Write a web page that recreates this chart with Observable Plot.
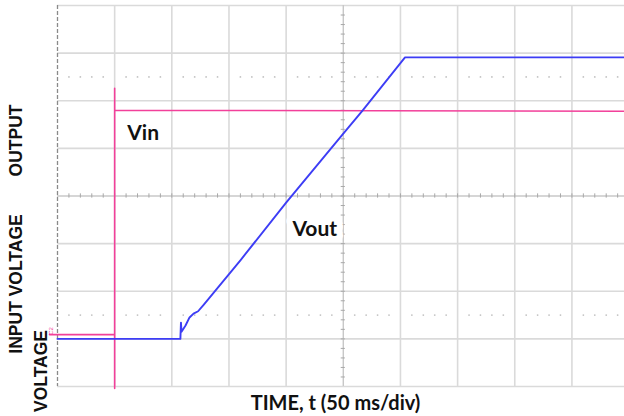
<!DOCTYPE html>
<html><head><meta charset="utf-8">
<script src="https://cdn.jsdelivr.net/npm/d3@7"></script>
<script src="https://cdn.jsdelivr.net/npm/@observablehq/plot@0.6"></script>
<style>html,body{margin:0;padding:0;background:#fff;}</style>
</head><body><div id="chart"></div>
<script>
// time in ms (50 ms/div), voltage in screen divisions (0..8)
const tVin  = [-7, 50, 50, 50, 50, 496];
const vVin  = [1.09, 1.09, -0.04, 6.26, 5.80, 5.78];
const tVout = [0, 107.5, 108, 108.5, 112, 115.5, 119, 123, 128, 160, 200, 250, 267, 304, 496];
const vVout = [1.0, 1.0, 1.34, 1.15, 1.28, 1.45, 1.53, 1.58, 1.72, 2.65, 3.86, 5.31, 5.80, 6.91, 6.91];

const gridT = [50, 100, 150, 200, 300, 350, 400, 450];
const gridV = [0, 1, 2, 3, 5, 6, 7, 8];
const centerT = 250, centerV = 4;
const minorT = d3.range(10, 496, 10);
const minorV = d3.range(1, 40).map(i => i * 0.2);
const dotRowV = [6.5, 1.5];
const dotT = d3.range(10, 496, 10).filter(t => t % 50 !== 0);

const labelNames = ["Vin", "Vout"];
const labelT = [61, 205.5];
const labelV = [5.18, 3.15];

const xLabel = "TIME, t (50 ms/div)";
const yLabelTop = "OUTPUT";
const yLabelMid = "INPUT VOLTAGE";
const yLabelLine2 = "VOLTAGE";

const vin = tVin.map((t, i) => ({t, v: vVin[i]}));
const vout = tVout.map((t, i) => ({t, v: vVout[i]}));
const dots = dotRowV.flatMap(v => dotT.map(t => ({t, v})));
const labels = labelNames.map((name, i) => ({name, t: labelT[i], v: labelV[i]}));

const PINK = "#f2409a", BLUE = "#3d3df5";
const fontTxt = "Lato, 'Open Sans', sans-serif";
const fontY = "'Liberation Sans', Arial, sans-serif";

const chart = Plot.plot({
  width: 624, height: 416,
  marginLeft: 57, marginRight: 0, marginTop: 5, marginBottom: 30,
  x: {domain: [0, 496], axis: null},
  y: {domain: [0, 8], axis: null},
  style: {background: "#fff", overflow: "visible"},
  marks: [
    Plot.ruleX(gridT, {stroke: "#dadada", strokeWidth: 1.6}),
    Plot.ruleY(gridV, {stroke: "#dadada", strokeWidth: 1.6}),
    Plot.dot(dots, {x: "t", y: "v", r: 0.9, fill: "#c2c2c2", stroke: null}),
    Plot.ruleX([centerT], {stroke: "#c8c8c8", strokeWidth: 1.4}),
    Plot.ruleY([centerV], {stroke: "#c8c8c8", strokeWidth: 1.4}),
    Plot.ruleX(minorT, {x: d => d, y1: centerV - 0.045, y2: centerV + 0.045, stroke: "#a8a8a8", strokeWidth: 1}),
    Plot.ruleY(minorV, {y: d => d, x1: centerT - 1.8, x2: centerT + 1.8, stroke: "#a8a8a8", strokeWidth: 1}),
    Plot.ruleX([0], {stroke: "#8a8a8a", strokeWidth: 1.3, strokeDasharray: "4,2"}),
    Plot.line(vin, {x: "t", y: "v", stroke: PINK, strokeWidth: 1.6}),
    Plot.line(vout, {x: "t", y: "v", stroke: BLUE, strokeWidth: 1.9}),
    Plot.text(labels, {x: "t", y: "v", text: "name", textAnchor: "start", lineAnchor: "bottom",
      fontSize: 21, fontWeight: "bold", fontFamily: fontTxt, fill: "#111",
      stroke: "white", strokeWidth: 12, strokeLinejoin: "round"}),
    Plot.text(["C2"], {frameAnchor: "left", textAnchor: "middle", dx: -6, dy: 135, rotate: -90, fontSize: 6,
      fontFamily: fontY, fill: PINK}),
    Plot.text([xLabel], {frameAnchor: "bottom", dx: -5.5, dy: 23, lineAnchor: "bottom",
      fontSize: 20, fontWeight: "bold", fontFamily: fontTxt, fill: "#111"}),
    Plot.text([yLabelTop], {frameAnchor: "left", textAnchor: "middle", dx: -41, dy: -55.5, rotate: -90, lineAnchor: "middle",
      fontSize: 17.5, fontWeight: "bold", fontFamily: fontY, fill: "#111"}),
    Plot.text([yLabelMid], {frameAnchor: "left", textAnchor: "middle", dx: -41, dy: 88, rotate: -90, lineAnchor: "middle",
      fontSize: 17.5, fontWeight: "bold", fontFamily: fontY, fill: "#111"}),
    Plot.text([yLabelLine2], {frameAnchor: "left", textAnchor: "middle", dx: -16, dy: 175, rotate: -90, lineAnchor: "middle",
      fontSize: 17.5, fontWeight: "bold", fontFamily: fontY, fill: "#111"})
  ]
});
document.getElementById("chart").appendChild(chart);
</script>
</body></html>
